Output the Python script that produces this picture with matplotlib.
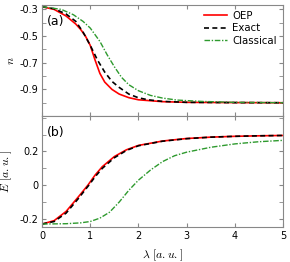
import numpy as np
import matplotlib
matplotlib.use("Agg")
import matplotlib.pyplot as plt
from matplotlib.ticker import MultipleLocator

# panel (a): density n(lambda)
lam_n_oep = [0, 0.25, 0.5, 0.7, 0.8, 0.9, 1.0, 1.1, 1.2, 1.3, 1.45, 1.6, 1.8, 2.0, 2.5, 3.0, 4.0, 5.0]
n_oep = [-0.28, -0.30, -0.35, -0.41, -0.45, -0.50, -0.57, -0.68, -0.78, -0.845, -0.90, -0.935, -0.962, -0.978, -0.992, -0.997, -0.999, -1.0]
lam_n_exact = [0, 0.25, 0.5, 0.7, 0.85, 1.0, 1.15, 1.3, 1.45, 1.6, 1.8, 2.0, 2.2, 2.5, 3.0, 4.0, 5.0]
n_exact = [-0.28, -0.295, -0.335, -0.39, -0.47, -0.57, -0.68, -0.77, -0.84, -0.885, -0.935, -0.963, -0.978, -0.99, -0.997, -0.999, -1.0]
lam_n_cl = [0, 0.4, 0.65, 0.85, 1.0, 1.2, 1.35, 1.5, 1.65, 1.8, 2.0, 2.25, 2.5, 2.8, 3.3, 4.0, 5.0]
n_cl = [-0.28, -0.30, -0.34, -0.39, -0.44, -0.54, -0.64, -0.73, -0.81, -0.865, -0.91, -0.945, -0.965, -0.98, -0.99, -0.997, -1.0]

# panel (b): energy E(lambda)
lam_e_oep = [0, 0.25, 0.5, 0.75, 0.95, 1.1, 1.25, 1.5, 1.75, 2.0, 2.5, 3.0, 3.5, 4.0, 4.5, 5.0]
e_oep = [-0.23, -0.21, -0.155, -0.07, 0.0, 0.06, 0.11, 0.17, 0.21, 0.236, 0.262, 0.277, 0.285, 0.29, 0.293, 0.295]
lam_e_exact = [0, 0.25, 0.5, 0.75, 0.97, 1.1, 1.25, 1.5, 1.75, 2.0, 2.5, 3.0, 3.5, 4.0, 4.5, 5.0]
e_exact = [-0.23, -0.215, -0.165, -0.08, 0.0, 0.05, 0.1, 0.163, 0.206, 0.234, 0.261, 0.276, 0.285, 0.29, 0.293, 0.295]
lam_e_cl = [0, 0.5, 0.8, 1.0, 1.2, 1.4, 1.6, 1.8, 2.0, 2.25, 2.5, 2.75, 3.0, 3.5, 4.0, 4.5, 5.0]
e_cl = [-0.23, -0.228, -0.223, -0.215, -0.195, -0.16, -0.1, -0.03, 0.03, 0.09, 0.14, 0.175, 0.196, 0.225, 0.245, 0.258, 0.266]

plt.rcParams["mathtext.fontset"] = "cm"
plt.rcParams["font.size"] = 7

SPINE = "#888888"
GREEN = "#2e9a2e"
DASH = (0, (3, 2))
DASHDOT = (0, (4, 1.2, 1, 1.2))

fig = plt.figure(figsize=(2.9, 2.62), dpi=100)
ax1 = fig.add_axes([0.145, 0.557, 0.831, 0.425])
ax2 = fig.add_axes([0.145, 0.132, 0.831, 0.425], sharex=ax1)

ax1.plot(lam_n_oep, n_oep, color="red", lw=1.2, label="OEP")
ax1.plot(lam_n_exact, n_exact, color="black", lw=1.2, ls=DASH, label="Exact")
ax1.plot(lam_n_cl, n_cl, color=GREEN, lw=1.0, ls=DASHDOT, label="Classical")

ax2.plot(lam_e_oep, e_oep, color="red", lw=1.2)
ax2.plot(lam_e_exact, e_exact, color="black", lw=1.2, ls=DASH)
ax2.plot(lam_e_cl, e_cl, color=GREEN, lw=1.0, ls=DASHDOT)

ax1.set_xlim(0, 5)
ax1.set_ylim(-1.1, -0.265)
ax1.set_yticks([-0.3, -0.5, -0.7, -0.9])
ax1.set_yticklabels(["-0.3", "-0.5", "-0.7", "-0.9"])
ax1.yaxis.set_minor_locator(MultipleLocator(0.1))
ax1.tick_params(labelbottom=False)

ax2.set_ylim(-0.25, 0.41)
ax2.set_yticks([-0.2, 0, 0.2])
ax2.set_yticklabels(["-0.2", "0", "0.2"])
ax2.yaxis.set_minor_locator(MultipleLocator(0.1))
ax2.xaxis.set_major_locator(MultipleLocator(1))

for ax in (ax1, ax2):
    ax.tick_params(which="both", direction="in", top=True, right=True,
                   color=SPINE, labelsize=7, pad=2.5, length=3)
    ax.xaxis.set_minor_locator(MultipleLocator(1))
    for s in ax.spines.values():
        s.set_color(SPINE)

ax1.set_ylabel(r"$n$", fontsize=8.5)
ax2.set_ylabel(r"$E\ [a.u.]$", fontsize=8.5)
ax2.set_xlabel(r"$\lambda\ [a.u.]$", fontsize=8.5)
ax1.yaxis.set_label_coords(-0.105, 0.5)
ax2.yaxis.set_label_coords(-0.115, 0.5)
ax2.xaxis.set_label_coords(0.5, -0.18)

ax1.text(0.02, 0.85, "(a)", transform=ax1.transAxes, fontsize=9, va="center")
ax2.text(0.02, 0.85, "(b)", transform=ax2.transAxes, fontsize=9, va="center")

ax1.legend(loc="upper right", frameon=False, fontsize=7.3, handlelength=2.3,
           labelspacing=0.25, borderaxespad=0.2, handletextpad=0.5)

fig.savefig("out.png", dpi=100)
